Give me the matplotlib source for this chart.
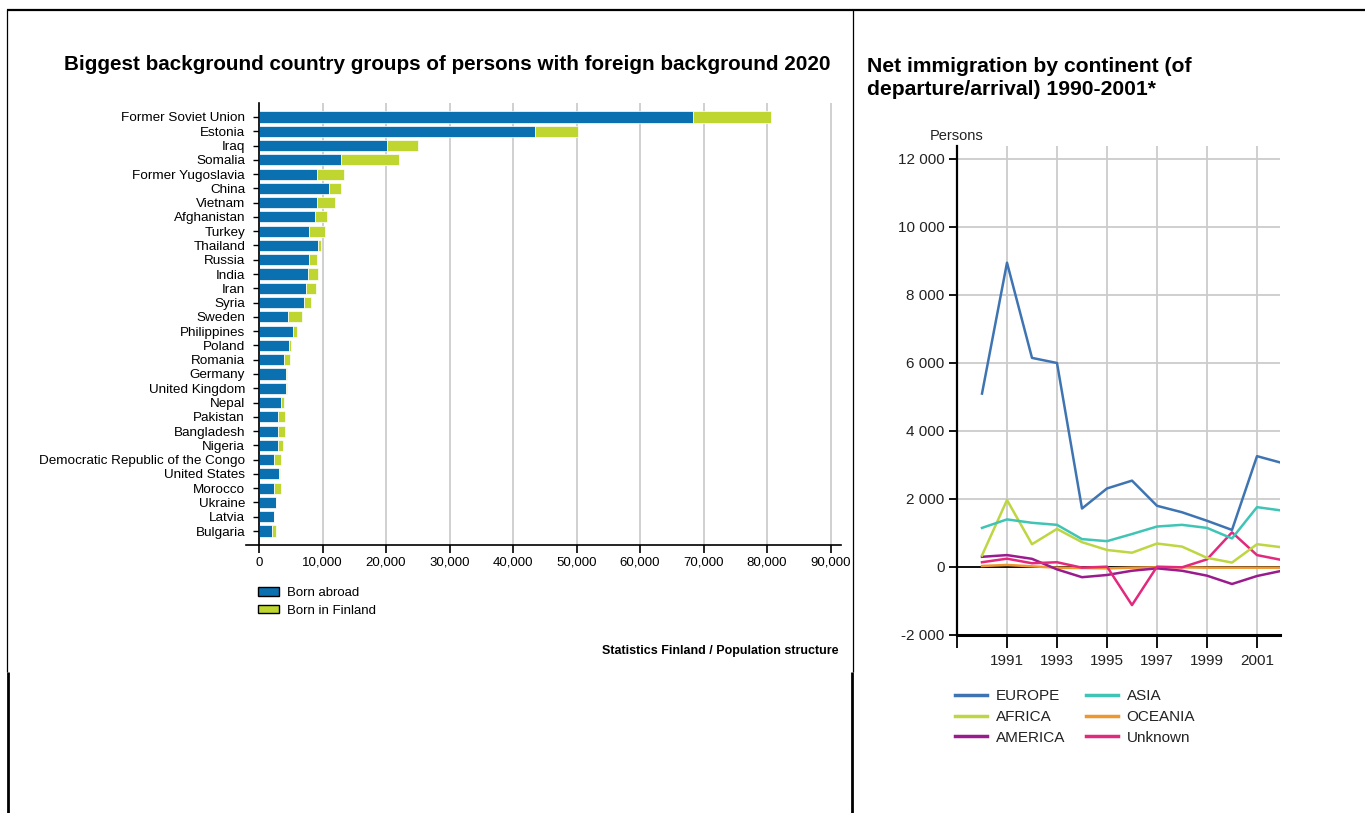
import matplotlib
matplotlib.use("Agg")
import matplotlib.pyplot as plt
from matplotlib.lines import Line2D
from matplotlib.patches import Patch

plt.rcParams['font.family'] = ['Liberation Sans', 'DejaVu Sans']

# ---------------- data: left chart ----------------
countries = ["Former Soviet Union", "Estonia", "Iraq", "Somalia", "Former Yugoslavia",
             "China", "Vietnam", "Afghanistan", "Turkey", "Thailand", "Russia", "India",
             "Iran", "Syria", "Sweden", "Philippines", "Poland", "Romania", "Germany",
             "United Kingdom", "Nepal", "Pakistan", "Bangladesh", "Nigeria",
             "Democratic Republic of the Congo", "United States", "Morocco", "Ukraine",
             "Latvia", "Bulgaria"]
born_abroad = [68400, 43500, 20100, 12900, 9100, 11000, 9100, 8800, 7900, 9300,
               7900, 7700, 7400, 7100, 4550, 5400, 4650, 4000, 4300, 4300,
               3450, 2950, 2950, 2950, 2400, 3200, 2400, 2600, 2350, 2100]
born_finland = [12300, 6800, 4900, 9100, 4300, 1900, 2900, 1900, 2500, 500,
                1300, 1550, 1600, 1050, 2150, 550, 450, 850, 50, 50,
                550, 1100, 1100, 800, 1100, 50, 1100, 50, 50, 500]
bar_ticks = [0, 10000, 20000, 30000, 40000, 50000, 60000, 70000, 80000, 90000]

# ---------------- data: right chart ----------------
years = [1990, 1991, 1992, 1993, 1994, 1995, 1996, 1997, 1998, 1999, 2000, 2001, 2002]
europe = [5100, 8950, 6150, 6000, 1720, 2310, 2540, 1800, 1610, 1360, 1090, 3260, 3060]
asia = [1150, 1400, 1300, 1240, 820, 760, 970, 1190, 1240, 1150, 840, 1760, 1660]
africa = [340, 1970, 670, 1120, 730, 500, 420, 690, 600, 270, 130, 670, 580]
oceania = [30, 60, 20, -20, -30, -40, -20, -10, -10, -20, -20, -20, -20]
america = [300, 350, 240, -70, -300, -235, -110, -40, -110, -255, -500, -265, -110]
unknown = [140, 245, 110, 140, -20, 10, -1120, 10, -10, 225, 1020, 350, 205]
line_ticks = [-2000, 0, 2000, 4000, 6000, 8000, 10000, 12000]
year_ticks = [1991, 1993, 1995, 1997, 1999, 2001]

W, H = 1365, 813
fig = plt.figure(figsize=(W / 100, H / 100), dpi=100)


def rect(x0, y0, x1, y1):
    return [x0 / W, 1 - y1 / H, (x1 - x0) / W, (y1 - y0) / H]


def fx(x):
    return x / W


def fy(y):
    return 1 - y / H


# ---------------- borders ----------------
def line(xs, ys, lw):
    fig.add_artist(Line2D([fx(x) for x in xs], [fy(y) for y in ys],
                          color='black', lw=lw, solid_capstyle='butt'))


line([7, 1365], [10, 10], 1.6)
line([7, 7], [9, 672], 0.9)
line([7.5, 7.5], [672, 813], 2.0)
line([852.5, 852.5], [9, 672], 0.9)
line([852, 852], [672, 813], 2.0)

# ---------------- left chart ----------------
blue = '#0a70b0'
green = '#bfd630'
ax1 = fig.add_axes(rect(246, 103, 841, 545))
ypos = list(range(len(countries)))
ax1.barh(ypos, born_abroad, height=0.78, color=blue, edgecolor='white', linewidth=0.5)
ax1.barh(ypos, born_finland, left=born_abroad, height=0.78, color=green,
         edgecolor='white', linewidth=0.5)
ax1.set_xlim(-2047, 91650)
ax1.set_ylim(29.98, -0.98)
ax1.spines['left'].set_position(('data', 0))
ax1.spines['top'].set_visible(False)
ax1.spines['right'].set_visible(False)
for s in ('left', 'bottom'):
    ax1.spines[s].set_linewidth(1.2)
    ax1.spines[s].set_color('black')
ax1.set_xticks(bar_ticks)
ax1.set_xticklabels([f"{v:,}" for v in bar_ticks])
ax1.set_yticks(ypos)
ax1.set_yticklabels(countries)
ax1.tick_params(axis='x', length=6, width=1.2, pad=2.5, labelsize=9.5, colors='black')
ax1.tick_params(axis='y', length=4, width=1.0, pad=6, labelsize=9.7, colors='black')
ax1.xaxis.grid(True, color='#c8c8c8', lw=1.2)
ax1.set_axisbelow(True)

fig.text(fx(447), fy(64),
         "Biggest background country groups of persons with foreign background 2020",
         ha='center', va='center', fontsize=14.9, fontweight='bold')

fig.legend(handles=[Patch(facecolor=blue, edgecolor='black', lw=1.0),
                    Patch(facecolor=green, edgecolor='black', lw=1.0)],
           labels=["Born abroad", "Born in Finland"],
           loc='upper left', bbox_to_anchor=(fx(258), fy(587)), frameon=False,
           fontsize=9.5, handlelength=1.6, handleheight=0.65, handletextpad=0.6,
           labelspacing=0.42, borderpad=0, borderaxespad=0)

fig.text(fx(838), fy(651), "Statistics Finland / Population structure",
         ha='right', va='center', fontsize=9, fontweight='bold')

# ---------------- right chart ----------------
ax2 = fig.add_axes(rect(957, 146, 1280, 635))
series = [("EUROPE", europe, '#3e74b2'), ("AFRICA", africa, '#bdd642'),
          ("AMERICA", america, '#9a1b8d'), ("ASIA", asia, '#3fc4b6'),
          ("OCEANIA", oceania, '#f0962e'), ("Unknown", unknown, '#e2297c')]
ax2.axhline(0, color='black', lw=1.3, zorder=1.5)
draw_order = ["OCEANIA", "AMERICA", "Unknown", "AFRICA", "ASIA", "EUROPE"]
handles = {}
for name, vals, col in series:
    z = 2 + draw_order.index(name) * 0.1
    l, = ax2.plot(years, vals, color=col, lw=1.8, zorder=z)
    handles[name] = l
ax2.set_xlim(1989, 2001.92)
ax2.set_ylim(-2000, 12382)
ax2.set_yticks(line_ticks)
ax2.set_yticklabels([f"{v:,}".replace(",", " ") for v in line_ticks])
ax2.set_xticks([1989] + year_ticks)
ax2.set_xticklabels([""] + [str(y) for y in year_ticks])
ax2.spines['top'].set_visible(False)
ax2.spines['right'].set_visible(False)
ax2.spines['left'].set_linewidth(1.6)
ax2.spines['bottom'].set_linewidth(2.2)
ax2.tick_params(axis='y', length=6, width=1.3, pad=3, labelsize=11, labelcolor='#222222')
ax2.tick_params(axis='x', length=9, width=1.3, pad=5, labelsize=11, labelcolor='#222222')
ax2.grid(True, color='#cccccc', lw=1.3)
ax2.set_axisbelow(True)

fig.text(fx(957), fy(135.5), "Persons", ha='center', va='center', fontsize=10.5,
         color='#222222')
fig.text(fx(867), fy(78), "Net immigration by continent (of\ndeparture/arrival) 1990-2001*",
         ha='left', va='center', fontsize=15.2, fontweight='bold', linespacing=1.22)

names = ["EUROPE", "AFRICA", "AMERICA", "ASIA", "OCEANIA", "Unknown"]
leg_handles = [Line2D([0], [0], color=handles[n].get_color(), lw=2.5) for n in names]
fig.legend(handles=leg_handles, labels=names, ncol=2, loc='upper left',
           bbox_to_anchor=(fx(955), fy(689)), frameon=False, fontsize=11,
           handlelength=2.1, handletextpad=0.55, columnspacing=1.4,
           labelspacing=0.45, borderpad=0, borderaxespad=0, labelcolor='#222222')

fig.savefig("out.png", dpi=100)
